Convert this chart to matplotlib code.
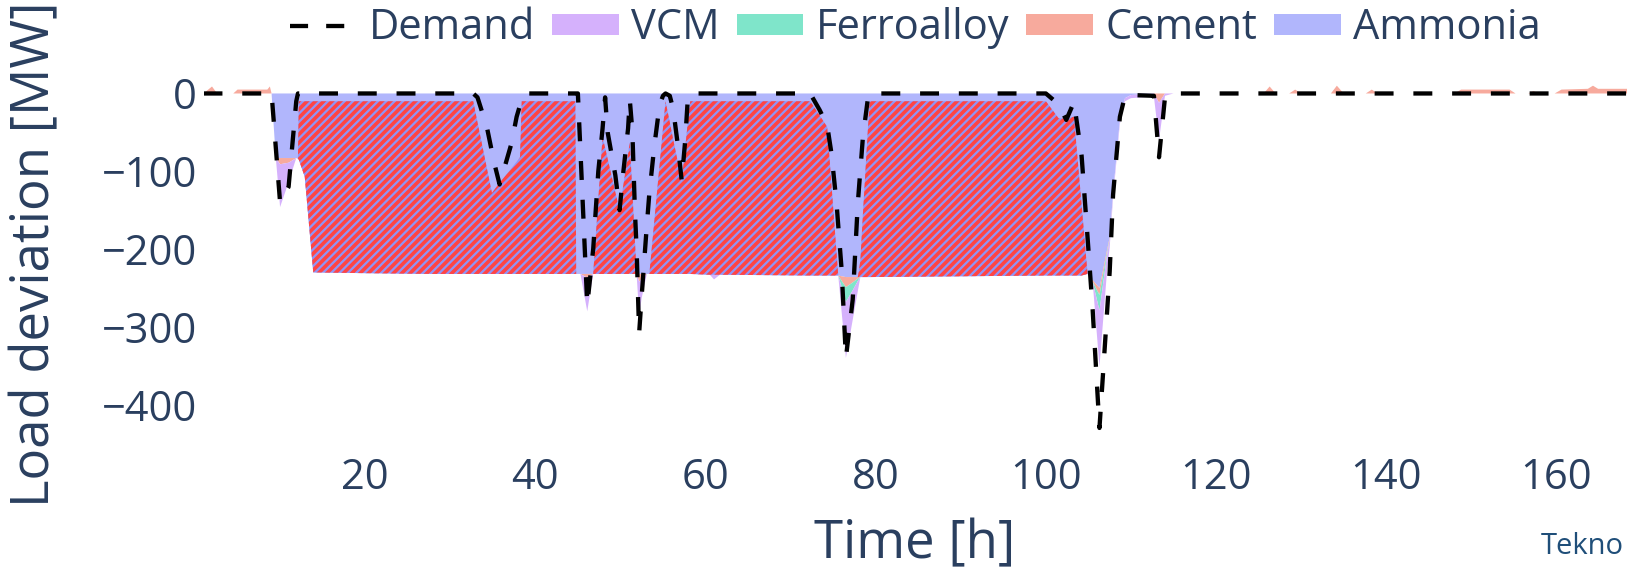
import matplotlib
matplotlib.use('Agg')
import matplotlib.pyplot as plt
import numpy as np
from matplotlib.lines import Line2D
from matplotlib.patches import Patch

plt.rcParams['font.family'] = ['Open Sans', 'DejaVu Sans']
plt.rcParams['hatch.linewidth'] = 2.6
plt.rcParams['hatch.color'] = '#ff4444'

# ------------------------------------------------------------------------------
# data (breakpoints)
hours = [
    1.0, 2.0, 2.6, 4.5, 5.0, 8.5, 8.8, 9.0,
    9.5, 10.0, 11.0, 11.9, 12.1, 12.2, 12.9, 13.9,
    20.0, 28.0, 32.7, 33.2, 34.3, 34.9, 35.3, 35.8,
    37.2, 37.8, 38.2, 38.4, 39.0, 44.7, 44.8, 45.0,
    45.3, 46.1, 46.8, 47.4, 47.9, 48.2, 48.5, 49.4,
    49.9, 50.3, 50.9, 51.1, 51.4, 51.7, 51.9, 52.2,
    52.5, 53.1, 53.4, 54.0, 54.6, 55.0, 55.3, 55.8,
    56.2, 56.8, 57.2, 57.6, 57.9, 58.2, 60.5, 61.0,
    61.7, 72.3, 73.4, 74.3, 74.8, 75.4, 75.6, 76.0,
    76.5, 77.3, 77.9, 78.2, 78.5, 79.1, 79.3, 90.0,
    100.0, 101.5, 102.4, 103.3, 104.2, 104.9, 105.5, 106.3,
    107.2, 107.5, 107.9, 108.7, 109.3, 110.0, 112.7, 113.3,
    114.0, 115.0, 125.6, 126.3, 127.0, 128.6, 129.3, 130.0,
    133.5, 134.2, 135.0, 137.6, 138.3, 139.0, 148.0, 148.8,
    154.5, 155.2, 156.7, 157.3, 158.0, 159.8, 160.6, 163.7,
    164.3, 164.9, 168.3]

demand = [
    0, 0, 0, 0, 0, 0, 0, 0,
    -70, -140, -120, -10, 0, 0, 0, 0,
    0, 0, 0, -5, -43, -75, -95, -117,
    -64, -30, -15, -5, 0, 0, 0, 0,
    -74, -272, -200, -100, -45, -5, -50, -105,
    -150, -105, -45, -8, -48, -150, -200, -308,
    -260, -170, -128, -66, -15, -3, 0, -3,
    -20, -71, -112, -62, -10, 0, 0, 0,
    0, 0, -21, -41, -77, -141, -170, -227,
    -340, -265, -141, -98, -56, -5, 0, 0,
    0, -14, -34, -11, -80, -185, -278, -430,
    -280, -229, -130, -30, -3, -2, -3, -82,
    -5, 0, 0, 0, 0, 0, 0, 0,
    0, 0, 0, 0, 0, 0, 0, 0,
    0, 0, 0, 0, 0, 0, 0, 0,
    0, 0, 0]

ammonia = [
    0, 0, 0, 0, 0, 0, 0, 0,
    -83, -83, -83, -83, -84, -85, -107, -230,
    -231, -232, -232, -232, -232, -232, -232, -232,
    -232, -232, -232, -232, -232, -232, -232, -232,
    -232, -232, -232, -232, -232, -232, -232, -232,
    -232, -232, -232, -232, -232, -232, -232, -232,
    -232, -232, -232, -232, -232, -232, -232, -232,
    -232, -232, -232, -232, -232, -232, -233, -233,
    -233, -234, -234, -234, -234, -234, -234, -235,
    -236, -236, -236, -236, -236, -236, -236, -235,
    -234, -234, -234, -234, -234, -232, -240, -250,
    -201, -185, -128, -34, -6, -2, 0, 0,
    0, 0, 0, 0, 0, 0, 0, 0,
    0, 0, 0, 0, 0, 0, 0, 0,
    0, 0, 0, 0, 0, 0, 0, 0,
    0, 0, 0]

# top edge of the hatched block (equal to ammonia where there is no hatch)
hatch_top = [
    0, 0, 0, 0, 0, 0, 0, 0,
    -83, -83, -83, -83, -84, -10, -10, -10,
    -10, -10, -10, -37, -96, -128, -122, -115,
    -96, -88, -82, -10, -10, -10, -232, -232,
    -232, -232, -232, -136, -56, -70, -84, -127,
    -150, -121, -78, -63, -126, -189, -232, -232,
    -232, -232, -232, -162, -92, -45, -10, -37,
    -59, -91, -113, -71, -39, -10, -10, -10,
    -10, -10, -28, -43, -117, -205, -234, -235,
    -236, -236, -236, -215, -155, -43, -10, -10,
    -10, -32, -32, -30, -143, -232, -240, -250,
    -201, -185, -128, -34, -6, -2, 0, 0,
    0, 0, 0, 0, 0, 0, 0, 0,
    0, 0, 0, 0, 0, 0, 0, 0,
    0, 0, 0, 0, 0, 0, 0, 0,
    0, 0, 0]

cement = [
    0, 9, 0, 0, 5, 5, 9, 0,
    0, -8, -6, 0, 0, 0, 0, 0,
    0, 0, 0, 0, 0, 0, 0, 0,
    0, 0, 0, 0, 0, 0, 0, 0,
    0, -5, 0, 0, 0, 0, 0, 0,
    0, 0, 0, 0, 0, 0, 0, -10,
    -6, 0, 0, 0, 0, 0, 0, 0,
    0, 0, 0, 0, 0, 0, 0, 0,
    0, 0, 0, 0, 0, 0, 0, -6,
    -13, -7, -2, 0, 0, 0, 0, 0,
    0, 0, 0, 0, 0, 0, -2, -9,
    -3, -2, 0, 0, 0, 0, 0, -12,
    0, 0, 0, 9, 0, 0, 5, 0,
    0, 10, 0, 0, 5, 0, 0, 5,
    5, 0, 0, 3, 0, 0, 5, 6,
    10, 6, 6]

ferroalloy = [
    0, 0, 0, 0, 0, 0, 0, 0,
    0, 0, 0, 0, 0, 0, 0, 0,
    0, 0, 0, 0, 0, 0, 0, 0,
    0, 0, 0, 0, 0, 0, 0, 0,
    0, 0, 0, 0, 0, 0, 0, 0,
    0, 0, 0, 0, 0, 0, 0, 0,
    0, 0, 0, 0, 0, 0, 0, 0,
    0, 0, 0, 0, 0, 0, 0, 0,
    0, 0, 0, 0, 0, 0, 0, -8,
    -19, -10, -3, 0, 0, 0, 0, 0,
    0, 0, 0, 0, 0, 0, 0, -20,
    -3, -1, 0, 0, 0, 0, 0, 0,
    0, 0, 0, 0, 0, 0, 0, 0,
    0, 0, 0, 0, 0, 0, 0, 0,
    0, 0, 0, 0, 0, 0, 0, 0,
    0, 0, 0]

vcm = [
    0, 0, 0, 0, 0, 0, 0, 0,
    0, -55, -25, 0, 0, 0, 0, 0,
    0, 0, 0, 0, 0, 0, 0, 0,
    0, 0, 0, 0, 0, 0, 0, 0,
    0, -43, 0, 0, 0, 0, 0, 0,
    0, 0, 0, 0, 0, 0, 0, -43,
    -25, 0, 0, 0, 0, 0, 0, 0,
    0, 0, 0, 0, 0, 0, 0, -6,
    0, 0, 0, 0, 0, 0, 0, -32,
    -72, -38, -13, 0, 0, 0, 0, 0,
    0, 0, 0, 0, 0, 0, 0, -72,
    -20, -10, -6, -5, -4, -4, -4, -48,
    -3, 0, 0, 0, 0, 0, 0, 0,
    0, 0, 0, 0, 0, 0, 0, 0,
    0, 0, 0, 0, 0, 0, 0, 0,
    0, 0, 0]

yticks = [-400, -300, -200, -100, 0]
xticks = [20, 40, 60, 80, 100, 120, 140, 160]

# ------------------------------------------------------------------------------
text_c = '#2a3f5f'
c_amm = '#b1b6fc'
c_cem = '#f7aa9d'
c_fer = '#7fe5ca'
c_vcm = '#d5b1fc'

fig = plt.figure(figsize=(16.27, 5.73), dpi=100)
ax = fig.add_axes([0.12508, 0.2056, 0.87492, 0.672])

t = np.array(hours)
ax.stackplot(t, ammonia, cement, ferroalloy, vcm,
             colors=[c_amm, c_cem, c_fer, c_vcm], linewidth=0)
ax.fill_between(t, hatch_top, ammonia, facecolor='#9094f6',
                edgecolor='#ff4444', hatch='////', linewidth=0, zorder=3)
ax.plot(t, demand, color='black', linewidth=3.1, linestyle=(0, (4.4, 4.6)),
        zorder=5)

ax.set_xlim(1, 168.3)
ax.set_ylim(-465, 30)
ax.set_xticks(xticks)
ax.set_yticks(yticks)
ax.tick_params(axis='both', length=0, labelsize=30, labelcolor=text_c)
ax.tick_params(axis='y', pad=4.7)
ax.tick_params(axis='x', pad=1)
for s in ax.spines.values():
    s.set_visible(False)

fig.text(36/1627, 1-254/573, 'Load deviation [MW]', rotation=90,
         ha='center', va='center', fontsize=38, color=text_c)
fig.text(915/1627, 1-545/573, 'Time [h]', ha='center', va='center',
         fontsize=38, color=text_c)
fig.text(1541/1627, 1-554/573, 'Tekno', ha='left', va='baseline',
         fontsize=21, color='#1f4e79')

handles = [Line2D([], [], color='black', linewidth=3.1, linestyle=(0, (4.2, 4.2))),
           Patch(facecolor=c_vcm, edgecolor='none'),
           Patch(facecolor=c_fer, edgecolor='none'),
           Patch(facecolor=c_cem, edgecolor='none'),
           Patch(facecolor=c_amm, edgecolor='none')]
labels = ['Demand', 'VCM', 'Ferroalloy', 'Cement', 'Ammonia']
fig.legend(handles, labels, loc='center left', bbox_to_anchor=(290/1627, 1-28/573),
           ncol=5, frameon=False, fontsize=30, handlelength=1.6, handleheight=0.4,
           handletextpad=0.3, columnspacing=0.4, borderpad=0, borderaxespad=0,
           labelcolor=text_c)

fig.savefig('out.png', dpi=100)
